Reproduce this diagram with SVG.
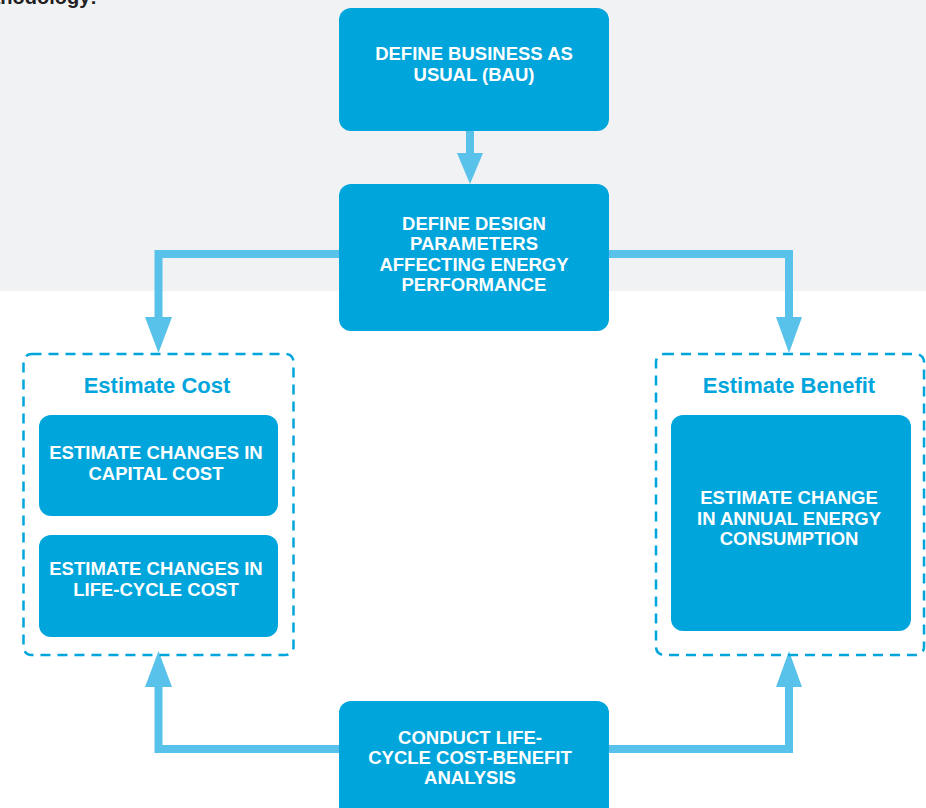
<svg xmlns="http://www.w3.org/2000/svg" width="926" height="808" viewBox="0 0 926 808">
<style>
.box{fill:#00a5dc;}
.bt{fill:#ffffff;font-family:"Liberation Sans",Arial,sans-serif;font-weight:bold;font-size:18.5px;text-anchor:middle;}
.grp{fill:none;stroke:#00a5dc;stroke-width:2.5;stroke-dasharray:10 7;}
.gt{fill:#00a5dc;font-family:"Liberation Sans",Arial,sans-serif;font-weight:bold;font-size:22px;text-anchor:middle;}
.ln{fill:none;stroke:#58c2ea;stroke-width:8;}
.hd{fill:#58c2ea;}
</style>
<rect x="0" y="0" width="926" height="291" fill="#f1f2f4"/>
<text x="97" y="4" font-family="Liberation Sans, Arial, sans-serif" font-weight="bold" font-size="20" fill="#231f20" text-anchor="end">methodology:</text>

<g id="connectors">
  <line class="ln" x1="470" y1="131" x2="470" y2="155" stroke-width="10"/>
  <polygon class="hd" points="457,153 483,153 470,184"/>
  <polyline class="ln" points="339,254 158.5,254 158.5,320"/>
  <polygon class="hd" points="145,317 172,317 158.5,353"/>
  <polyline class="ln" points="609,254 789,254 789,320"/>
  <polygon class="hd" points="776,317 802,317 789,353"/>
  <polyline class="ln" points="339,749 158.5,749 158.5,684"/>
  <polygon class="hd" points="145,687 172,687 158.5,651"/>
  <polyline class="ln" points="609,749 789,749 789,684"/>
  <polygon class="hd" points="776,687 802,687 789,651"/>
</g>

<g id="bau">
  <rect class="box" x="339" y="8" width="270" height="123" rx="12"/>
  <text class="bt" x="474" y="60">DEFINE BUSINESS AS</text>
  <text class="bt" x="474" y="81">USUAL (BAU)</text>
</g>
<g id="design">
  <rect class="box" x="339" y="184" width="270" height="147" rx="12"/>
  <text class="bt" x="474" y="230">DEFINE DESIGN</text>
  <text class="bt" x="474" y="250">PARAMETERS</text>
  <text class="bt" x="474" y="271">AFFECTING ENERGY</text>
  <text class="bt" x="474" y="291">PERFORMANCE</text>
</g>
<g id="estimate-cost">
  <rect class="grp" x="23.5" y="354" width="270" height="301" rx="8"/>
  <text class="gt" x="157" y="393">Estimate Cost</text>
</g>
<g id="capital">
  <rect class="box" x="39" y="415" width="239" height="101" rx="12"/>
  <text class="bt" x="156" y="459">ESTIMATE CHANGES IN</text>
  <text class="bt" x="156" y="480">CAPITAL COST</text>
</g>
<g id="lifecycle">
  <rect class="box" x="39" y="535" width="239" height="102" rx="12"/>
  <text class="bt" x="156" y="575">ESTIMATE CHANGES IN</text>
  <text class="bt" x="156" y="596">LIFE-CYCLE COST</text>
</g>
<g id="estimate-benefit">
  <rect class="grp" x="656" y="354" width="268" height="301" rx="8"/>
  <text class="gt" x="789" y="393">Estimate Benefit</text>
</g>
<g id="energy">
  <rect class="box" x="671" y="415" width="240" height="216" rx="12"/>
  <text class="bt" x="789" y="504">ESTIMATE CHANGE</text>
  <text class="bt" x="789" y="525">IN ANNUAL ENERGY</text>
  <text class="bt" x="789" y="545">CONSUMPTION</text>
</g>
<g id="lcca">
  <rect class="box" x="339" y="701" width="270" height="120" rx="12"/>
  <text class="bt" x="470" y="744">CONDUCT LIFE-</text>
  <text class="bt" x="470" y="764">CYCLE COST-BENEFIT</text>
  <text class="bt" x="470" y="784">ANALYSIS</text>
</g>
</svg>
